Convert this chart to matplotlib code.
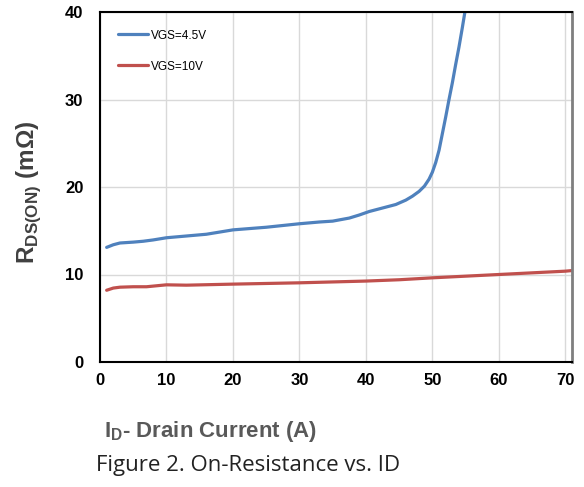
import numpy as np
import matplotlib.pyplot as plt

# VGS = 4.5V curve
id_45 = [1, 2, 3, 5, 6.5, 8, 10, 13, 16, 18, 20, 25, 30, 33, 35, 37.5, 39, 40.5, 42.5, 44.5, 46, 47, 48, 48.8,
         49.5, 50, 50.5, 51, 51.5, 52, 52.5, 53, 53.5, 54, 54.5, 55]
r_45 = [13.1, 13.4, 13.6, 13.7, 13.8, 13.95, 14.2, 14.4, 14.6, 14.85, 15.1, 15.4, 15.8, 16.0, 16.1, 16.45, 16.8,
        17.2, 17.6, 18.0, 18.5, 18.95, 19.5, 20.1, 20.9, 21.7, 22.8, 24.2, 26.1, 28.0, 30.0, 31.9, 34.0, 36.0,
        38.2, 40.5]
# VGS = 10V curve
id_10 = [1, 2, 3, 5, 7, 10, 13, 20, 30, 40, 45, 50, 60, 70, 71]
r_10 = [8.2, 8.45, 8.55, 8.6, 8.6, 8.82, 8.78, 8.9, 9.05, 9.25, 9.4, 9.62, 10.0, 10.38, 10.45]

xticks = [0, 10, 20, 30, 40, 50, 60, 70]
yticks = [0, 10, 20, 30, 40]

plt.rcParams['mathtext.fontset'] = 'custom'
plt.rcParams['mathtext.rm'] = 'Liberation Sans:bold'
sans = ['Liberation Sans', 'DejaVu Sans']

fig = plt.figure(figsize=(5.84, 4.87), dpi=100)
ax = fig.add_axes([100/584, 1-362/487, 472/584, 350/487])

ax.plot(id_45, r_45, color='#4F81BD', lw=2.3, label='VGS=4.5V', solid_capstyle='round', solid_joinstyle='round')
ax.plot(id_10, r_10, color='#C0504D', lw=2.3, label='VGS=10V', solid_capstyle='round', solid_joinstyle='round')

ax.set_xlim(0, 71)
ax.set_ylim(0, 40)
ax.set_xticks(xticks)
ax.set_yticks(yticks)
ax.grid(True, color='#d9d9d9', lw=1.0)
ax.set_axisbelow(True)
ax.tick_params(length=0, labelsize=12, pad=8)
for lab in ax.get_xticklabels() + ax.get_yticklabels():
    lab.set_family(sans)
    lab.set_fontweight('bold')
ax.tick_params(axis='y', pad=12)

for s in ['left', 'bottom', 'top']:
    ax.spines[s].set_color('black')
    ax.spines[s].set_linewidth(1.5)
ax.spines['right'].set_color('#7f7f7f')
ax.spines['right'].set_linewidth(2.0)

leg = ax.legend(loc='upper left', frameon=False, fontsize=8.5, handlelength=2.6,
                handletextpad=0.2, labelspacing=1.6, bbox_to_anchor=(0.015, 0.98))
for t in leg.get_texts():
    t.set_family(sans)

fig.text(29/584, 1-192/487, r'R$_{\mathrm{DS(ON)}}$ (mΩ)', rotation=90, ha='center', va='center',
         fontsize=17.5, fontweight='bold', color='#404040', family=sans)
fig.text(104/584, 1-432/487, r'I$_{\mathrm{D}}$- Drain Current (A)', ha='left', va='center',
         fontsize=16, fontweight='bold', color='#595959', family=sans)
fig.text(96/584, 1-466/487, 'Figure 2. On-Resistance vs. ID', ha='left', va='center',
         fontsize=16, color='#222222', family=['Open Sans', 'DejaVu Sans'])

fig.savefig('out.png', dpi=100)
